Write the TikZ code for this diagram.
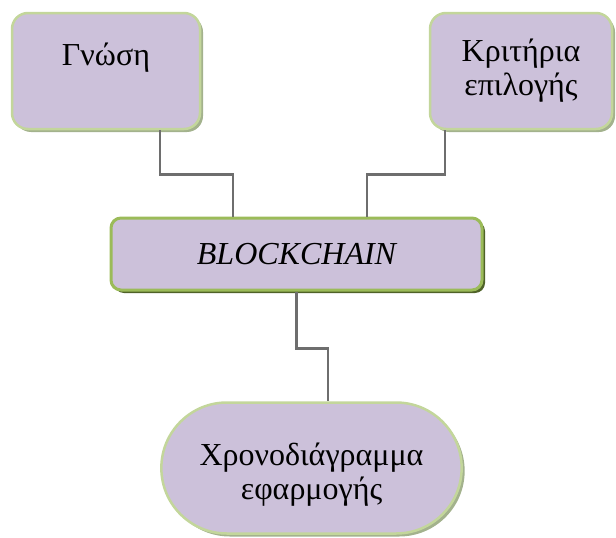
\documentclass[tikz,border=0pt]{standalone}
\usepackage{fontspec}
\setmainfont{Liberation Serif}
\usepackage{xcolor}
\usetikzlibrary{positioning, shadows, shapes.misc}

\definecolor{boxfill}{HTML}{CCC1DA}
\definecolor{boxline}{HTML}{C3D69B}
\definecolor{boxshade}{HTML}{A3B28D}
\definecolor{chainline}{HTML}{9BBB59}
\definecolor{chainshade}{HTML}{4F6228}
\definecolor{linkgray}{HTML}{6E6E6E}

\begin{document}
\begin{tikzpicture}[x=1pt, y=1pt,
        topic/.style={draw=boxline, fill=boxfill, line width=2.5pt, rounded corners=16pt,
            align=center, font=\fontsize{32}{34}\selectfont,
            drop shadow={shadow xshift=3pt, shadow yshift=-3pt, fill=boxshade, opacity=1}},
        core/.style={draw=chainline, fill=boxfill, line width=3pt, rounded corners=10pt,
            font=\fontsize{32}{34}\selectfont\itshape,
            drop shadow={shadow xshift=3pt, shadow yshift=-3pt, fill=chainshade, opacity=1}},
        plan/.style={rounded rectangle, draw=boxline, fill=boxfill, line width=2.5pt,
            align=center, font=\fontsize{32}{34}\selectfont,
            drop shadow={shadow xshift=3pt, shadow yshift=-3pt, fill=boxshade, opacity=1}},
        link/.style={draw=linkgray, line width=2.5pt}
    ]
        \useasboundingbox (0,0) rectangle (616,-538);

        % Nodes
            \node[topic, minimum width=188pt, minimum height=116pt] (gnosi) at (106,-71) {Γνώση\\ \mbox{}};
            \node[topic, minimum width=182pt, minimum height=116pt] (kritiria) at (521,-71) {Κριτήρια\\επιλογής};
            \node[core, minimum width=371pt, minimum height=72pt] (chain) at (296.5,-254) {BLOCKCHAIN};
            \node[plan, minimum width=307pt, minimum height=131pt] (xrono) at (311.5,-468) {\rule{0pt}{35pt}Χρονοδιάγραμμα\\εφαρμογής};

            % Connectors
            \draw[link] ([xshift=54pt]gnosi.south) -- ++(0,-44) -| ([xshift=-63.5pt]chain.north);
            \draw[link] ([xshift=-76pt]kritiria.south) -- ++(0,-44) -| ([xshift=70.5pt]chain.north);
            \draw[link] (chain.south) -- ++(0,-57) -| ([xshift=16.5pt]xrono.north);
    \end{tikzpicture}
\end{document}
